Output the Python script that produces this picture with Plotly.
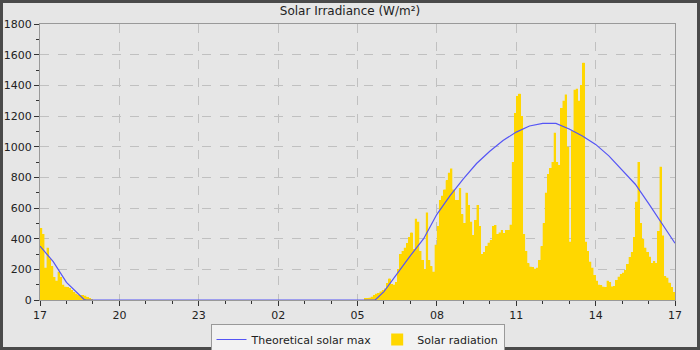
import datetime as dt
import plotly.graph_objects as go

# ---- data ----
start = dt.datetime(2024, 6, 1, 17, 0)
slot_minutes = 5
n_slots = 288

# 5-minute solar radiation readings (W/m2)
evening_values = [470, 430, 210, 340, 270, 220, 150, 125, 185, 150, 100, 87,
                  85, 76, 65, 50, 40, 33, 30, 30, 28, 18, 10, 4]
morning_first_slot = 147  # 05:15
morning_values = [8, 12, 15, 22, 30, 40, 45, 55, 62, 75, 110, 140, 105, 100, 115,
                  200, 300, 320, 340, 370, 410, 440, 330, 530, 510, 320, 260, 200,
                  570, 260, 220, 185, 360, 480, 650, 680, 720, 780, 830, 857, 720,
                  650, 650, 730, 560, 500, 700, 620, 510, 424, 520, 619, 480, 300,
                  310, 350, 374, 390, 480, 489, 430, 440, 456, 435, 456, 456, 490,
                  900, 1220, 1330, 1345, 1200, 430, 320, 240, 217, 215, 204, 210,
                  260, 350, 500, 700, 820, 860, 900, 1090, 900, 880, 1250, 1300,
                  1340, 1000, 380, 1100, 1372, 1378, 1300, 1400, 1548, 380, 320,
                  250, 210, 160, 125, 100, 95, 87, 85, 125, 115, 88, 90, 130, 152,
                  168, 178, 195, 235, 280, 310, 410, 640, 900, 500, 400, 340, 310,
                  282, 240, 255, 240, 450, 869, 420, 155, 145, 112, 85, 50]

# Theoretical solar max (W/m2), read every 30 min
theory_times = ["17:00", "17:30", "18:00", "18:30", "18:40", "18:45",
                "05:40", "06:00", "06:30", "07:00", "07:30", "08:00", "08:30",
                "09:00", "09:30", "10:00", "10:30", "11:00", "11:30", "12:00",
                "12:30", "13:00", "13:30", "14:00", "14:30", "15:00", "15:30",
                "16:00", "16:30", "17:00"]
theory_values = [352, 250, 115, 30, 3, 0,
                 0, 55, 175, 290, 400, 559, 680,
                 790, 890, 970, 1040, 1095, 1135, 1152,
                 1152, 1115, 1070, 1015, 940, 850, 755,
                 630, 500, 370]

x_tick_labels = ["17", "20", "23", "02", "05", "08", "11", "14", "17"]

# ---- build series ----
radiation = [0] * n_slots
for i, v in enumerate(evening_values):
    radiation[i] = v
for i, v in enumerate(morning_values):
    radiation[morning_first_slot + i] = v
bar_x = [start + dt.timedelta(minutes=slot_minutes * i + slot_minutes / 2) for i in range(n_slots)]
step_x = [start + dt.timedelta(minutes=slot_minutes * i) for i in range(n_slots + 1)]
step_y = radiation + [radiation[-1]]

theory_x = []
day = start.date()
prev = None
for t in theory_times:
    h, m = map(int, t.split(":"))
    d = dt.datetime.combine(day, dt.time(h, m))
    if prev is not None and d < prev:
        day = day + dt.timedelta(days=1)
        d = dt.datetime.combine(day, dt.time(h, m))
    theory_x.append(d)
    prev = d

end = start + dt.timedelta(hours=24)
tick_vals = [start + dt.timedelta(hours=3 * k) for k in range(len(x_tick_labels))]

GOLD = "#ffd700"
fig = go.Figure()
# step-filled area of the same readings (closes sub-pixel gaps between bars)
fig.add_trace(go.Scatter(
    x=step_x, y=step_y, mode="lines", line=dict(width=0, shape="hv", color=GOLD),
    fill="tozeroy", fillcolor=GOLD, showlegend=False, hoverinfo="skip"))
fig.add_trace(go.Scatter(
    x=theory_x, y=theory_values, mode="lines", name="Theoretical solar max",
    line=dict(color="#5555f5", width=1.2)))
fig.add_trace(go.Bar(
    x=bar_x, y=radiation, width=slot_minutes * 60 * 1000, name="Solar radiation",
    marker=dict(color=GOLD, line=dict(width=0))))

L, R, T, B = 40, 25, 24, 50
W, H = 700, 350
pw, ph = W - L - R, H - T - B

def px2x(p):
    return (p - L) / pw

def py2y(p):
    return (H - B - p) / ph

fig.update_layout(
    width=W, height=H,
    margin=dict(l=L, r=R, t=T, b=B, autoexpand=False),
    paper_bgcolor="#e6e6e6", plot_bgcolor="#e6e6e6",
    font=dict(family="DejaVu Sans", size=11, color="#222222"),
    title=dict(text="Solar Irradiance (W/m²)", x=0.5, xanchor="center",
               y=1 - 11 / H, yanchor="middle", yref="container",
               font=dict(size=12, color="#222222")),
    bargap=0, barmode="overlay",
    showlegend=True,
    legend=dict(orientation="h", x=0.5, xanchor="center",
                y=1 - 324 / H, yanchor="top", yref="container",
                bgcolor="#f2f2f2", bordercolor="#999999", borderwidth=1,
                font=dict(size=11), traceorder="normal", itemwidth=30,
                tracegroupgap=0),
    shapes=[dict(type="rect", xref="paper", yref="paper",
                 x0=px2x(1.5), x1=px2x(698.5), y0=py2y(348.5), y1=py2y(1.5),
                 line=dict(color="#4a4a4a", width=3), fillcolor="rgba(0,0,0,0)",
                 layer="above")],
)
fig.update_xaxes(
    type="date", range=[start, end], automargin=False,
    tickvals=tick_vals, ticktext=x_tick_labels,
    showgrid=True, gridcolor="#c0c0c0", griddash="dash", gridwidth=1,
    showline=True, linecolor="#999999", linewidth=1, mirror=True,
    ticks="outside", ticklen=5, tickcolor="#333333",
    minor=dict(dtick=3600000, tick0=start, ticks="outside", ticklen=3,
               tickcolor="#333333", showgrid=False),
    zeroline=False,
)
fig.update_yaxes(
    range=[0, 1800], dtick=200, tick0=0, automargin=False,
    showgrid=True, gridcolor="#c0c0c0", griddash="dash", gridwidth=1,
    showline=True, linecolor="#999999", linewidth=1, mirror=True,
    ticks="outside", ticklen=5, tickcolor="#333333",
    minor=dict(dtick=100, ticks="outside", ticklen=3, tickcolor="#333333", showgrid=False),
    zeroline=False,
)

fig.write_html("out.html")
